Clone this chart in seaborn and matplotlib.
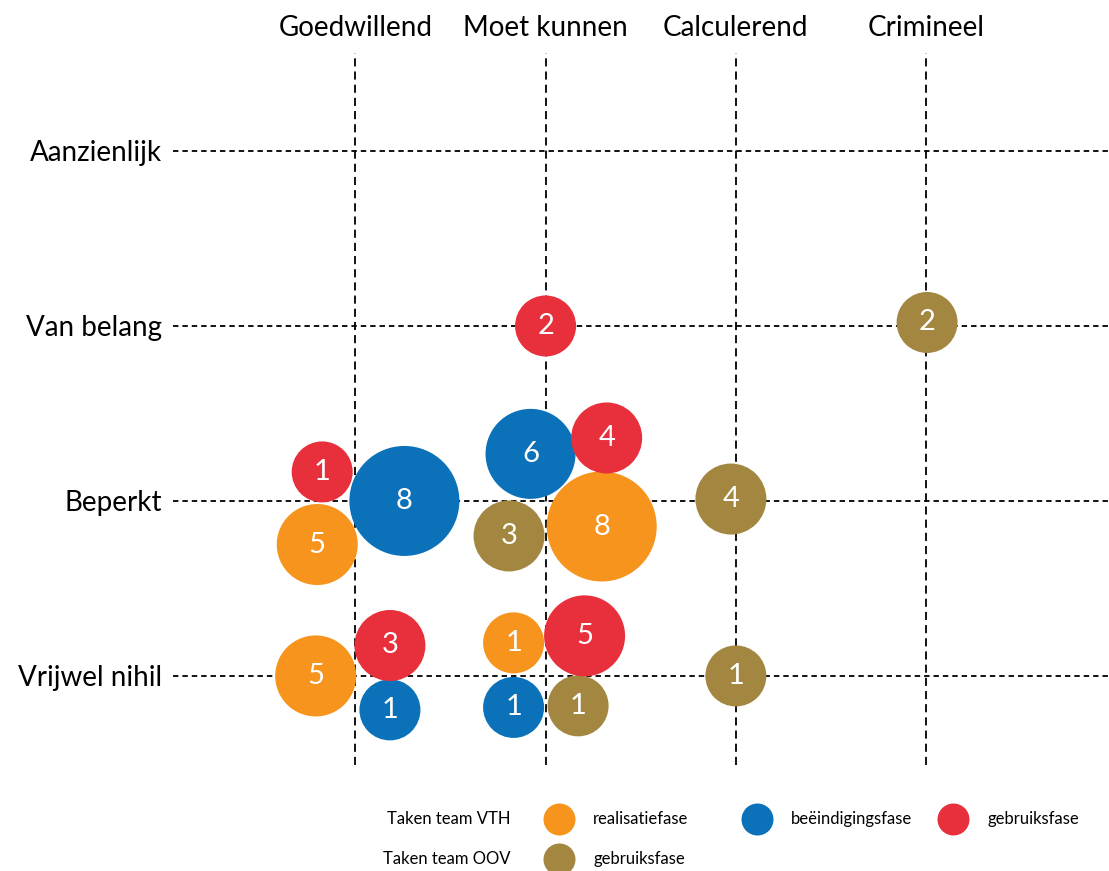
import matplotlib
matplotlib.use("Agg")
import matplotlib.pyplot as plt
import pandas as pd
import seaborn as sns

# Categories of the two axes
gedrag = ["Goedwillend", "Moet kunnen", "Calculerend", "Crimineel"]
impact = ["Vrijwel nihil", "Beperkt", "Van belang", "Aanzienlijk"]

# Each bubble: task group, number of tasks, behaviour score (x) and impact score (y)
groep = [
    "VTH beëindigingsfase", "VTH beëindigingsfase", "VTH beëindigingsfase", "VTH beëindigingsfase",
    "VTH realisatiefase", "VTH realisatiefase", "VTH realisatiefase", "VTH realisatiefase",
    "OOV gebruiksfase", "OOV gebruiksfase", "OOV gebruiksfase", "OOV gebruiksfase", "OOV gebruiksfase",
    "VTH gebruiksfase", "VTH gebruiksfase", "VTH gebruiksfase", "VTH gebruiksfase", "VTH gebruiksfase",
]
aantal = [8, 6, 1, 1,
          5, 8, 5, 1,
          3, 4, 2, 1, 1,
          1, 4, 2, 3, 5]
gedrag_score = [0.258, 0.921, 0.182, 0.832,
                -0.200, 1.295, -0.208, 0.832,
                0.808, 1.974, 3.005, 1.171, 2.000,
                -0.174, 1.321, 1.000, 0.182, 1.205]
impact_score = [1.000, 1.269, -0.194, -0.180,
                0.751, 0.854, 0.000, 0.189,
                0.800, 1.011, 2.020, -0.171, 0.000,
                1.166, 1.360, 2.000, 0.174, 0.229]

df = pd.DataFrame({"groep": groep, "aantal": aantal,
                   "gedrag": gedrag_score, "impact": impact_score})

kleuren = {
    "VTH realisatiefase": "#F7941D",
    "VTH beëindigingsfase": "#0B71B9",
    "VTH gebruiksfase": "#E8303C",
    "OOV gebruiksfase": "#A38741",
}
# bubble radius (pixels) for each count
straal = {1: 30.5, 2: 30.5, 3: 35.5, 4: 35.5, 5: 40.5, 6: 45.0, 8: 55.0}
DPI = 100
grootte = {k: (2 * r * 72 / DPI) ** 2 for k, r in straal.items()}

sns.set_theme(style="white")
plt.rcParams["font.family"] = ["Lato", "DejaVu Sans"]
plt.rcParams["text.color"] = "black"
plt.rcParams["xtick.color"] = "black"
plt.rcParams["ytick.color"] = "black"

W, H = 1109, 871
fig = plt.figure(figsize=(W / DPI, H / DPI), dpi=DPI)
ax = fig.add_axes([173 / W, 1 - 765 / H, (W - 173) / W, (765 - 53) / H])

# dashed grid lines through each category
for i in range(len(gedrag)):
    ax.axvline(i, color="black", lw=1.3, ls=(0, (4.5, 2.8)), zorder=1)
for j in range(len(impact)):
    ax.axhline(j, color="black", lw=1.3, ls=(0, (3, 2.2)), zorder=1)

sns.scatterplot(data=df, x="gedrag", y="impact", hue="groep", palette=kleuren,
                size="aantal", sizes=grootte, linewidth=0, alpha=1,
                legend=False, ax=ax, zorder=3)

for _, r in df.iterrows():
    ax.text(r["gedrag"], r["impact"], str(r["aantal"]), ha="center", va="center",
            color="white", fontsize=21, zorder=4)

ax.set_xlim(-0.958, 3.961)
ax.set_ylim(-0.509, 3.56)
ax.set_xticks(range(len(gedrag)))
ax.set_xticklabels(gedrag, fontsize=20)
ax.set_yticks(range(len(impact)))
ax.set_yticklabels(impact, fontsize=20)
ax.xaxis.tick_top()
ax.tick_params(axis="x", length=0, pad=9)
ax.tick_params(axis="y", length=0, pad=8)
ax.set_xlabel("")
ax.set_ylabel("")
for s in ax.spines.values():
    s.set_visible(False)

# legend drawn in figure pixel space
lg = fig.add_axes([0, 0, 1, 1], zorder=5)
lg.set_xlim(0, W)
lg.set_ylim(H, 0)
lg.axis("off")
lg.patch.set_alpha(0)
mk = (32 * 72 / DPI) ** 2
rij1, rij2 = 819, 859
lg.text(387, rij1, "Taken team VTH", fontsize=12, va="center", ha="left")
lg.text(383, rij2, "Taken team OOV", fontsize=12, va="center", ha="left")
items = [
    (559, rij1, "VTH realisatiefase", "realisatiefase"),
    (757, rij1, "VTH beëindigingsfase", "beëindigingsfase"),
    (953, rij1, "VTH gebruiksfase", "gebruiksfase"),
    (559, rij2, "OOV gebruiksfase", "gebruiksfase"),
]
for x, y, key, txt in items:
    lg.scatter([x], [y], s=mk, color=kleuren[key], linewidth=0, clip_on=False)
    lg.text(x + 34, y, txt, fontsize=12, va="center", ha="left")

fig.savefig("out.png", dpi=DPI)
